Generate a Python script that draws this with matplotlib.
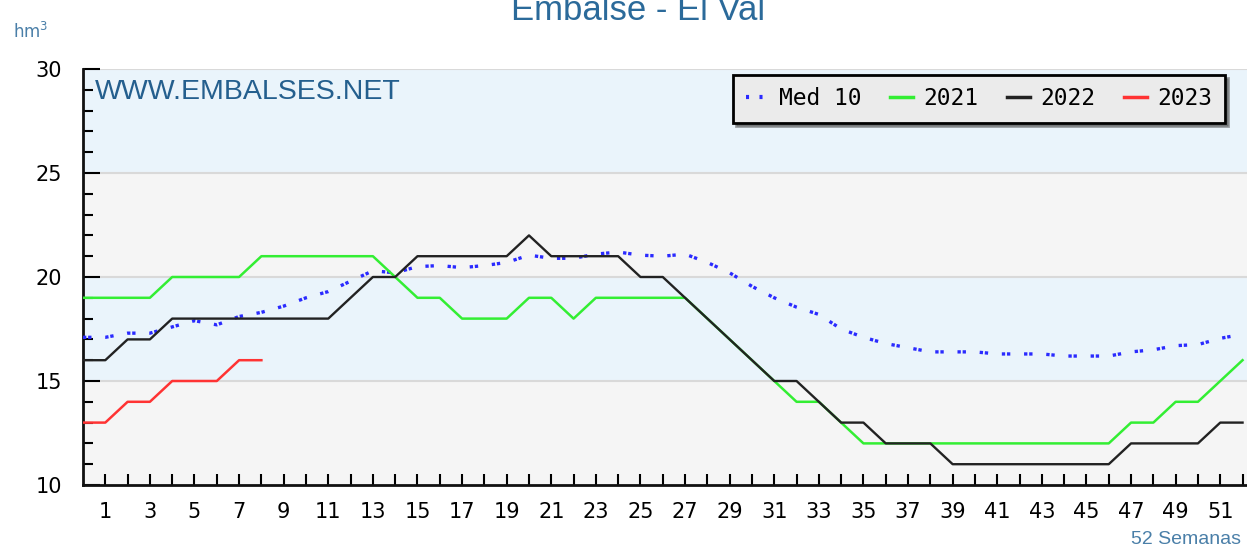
#!/usr/bin/env python3
"""Embalse - El Val: weekly reservoir volume (hm3), last years vs 10-year mean."""
import matplotlib
matplotlib.use("Agg")
import matplotlib.pyplot as plt
from matplotlib.lines import Line2D

# ── Data (week index 0..52) ────────────────────────────────────────────────────
WEEKS = list(range(53))

MED10 = [17.1, 17.1, 17.3, 17.3, 17.6, 17.9, 17.7, 18.1, 18.3, 18.6,
         19.0, 19.3, 19.8, 20.3, 20.2, 20.5, 20.55, 20.45, 20.55, 20.7,
         21.05, 20.9, 20.9, 21.1, 21.2, 21.05, 21.0, 21.1, 20.7, 20.2,
         19.55, 19.0, 18.55, 18.2, 17.5, 17.1, 16.8, 16.6, 16.4, 16.4,
         16.4, 16.3, 16.3, 16.3, 16.2, 16.2, 16.2, 16.4, 16.5, 16.7,
         16.75, 17.05, 17.25]

Y2021 = [19, 19, 19, 19, 20, 20, 20, 20, 21, 21,
         21, 21, 21, 21, 20, 19, 19, 18, 18, 18,
         19, 19, 18, 19, 19, 19, 19, 19, 18, 17,
         16, 15, 14, 14, 13, 12, 12, 12, 12, 12,
         12, 12, 12, 12, 12, 12, 12, 13, 13, 14,
         14, 15, 16]

Y2022 = [16, 16, 17, 17, 18, 18, 18, 18, 18, 18,
         18, 18, 19, 20, 20, 21, 21, 21, 21, 21,
         22, 21, 21, 21, 21, 20, 20, 19, 18, 17,
         16, 15, 15, 14, 13, 13, 12, 12, 12, 11,
         11, 11, 11, 11, 11, 11, 11, 12, 12, 12,
         12, 13, 13]

Y2023 = [13, 13, 14, 14, 15, 15, 15, 16, 16]

SERIES_LABELS = ["Med 10", "2021", "2022", "2023"]
COLORS = {"Med 10": "#2a2aff", "2021": "#33ee33", "2022": "#222222", "2023": "#ff3333"}

BANDS = [(10, 15, "#f5f5f5"), (15, 20, "#eaf4fb"), (20, 25, "#f5f5f5"), (25, 30, "#eaf4fb")]
TICK_WEEKS = list(range(1, 53))

plt.rcParams["lines.scale_dashes"] = False

fig = plt.figure(figsize=(12.47, 5.48), dpi=100)
ax = fig.add_axes([83 / 1247, 63 / 548, 1 - 83 / 1247, 416 / 548])

for lo, hi, c in BANDS:
    ax.axhspan(lo, hi, color=c, zorder=0, lw=0)
for y in (15, 20, 25, 30):
    ax.axhline(y, color="#d9d9d9", lw=1.5, zorder=1)

dots = (0, (2.4, 1.3, 2.4, 9.9))
ax.plot(WEEKS, MED10, color=COLORS["Med 10"], lw=2.4, ls=dots, zorder=3)
ax.plot(WEEKS, Y2021, color=COLORS["2021"], lw=1.8, zorder=3)
ax.plot(WEEKS, Y2022, color=COLORS["2022"], lw=1.7, zorder=4)
ax.plot(WEEKS[:len(Y2023)], Y2023, color=COLORS["2023"], lw=1.8, zorder=5)

ax.set_xlim(0, 52.2)
ax.set_ylim(10, 30)

ax.set_xticks(TICK_WEEKS)
ax.set_xticklabels([str(w) if w % 2 else "" for w in TICK_WEEKS],
                   fontsize=15, family="DejaVu Sans")
ax.set_yticks([10, 15, 20, 25, 30])
ax.set_yticks(range(10, 31), minor=True)
ax.set_yticklabels(["10", "15", "20", "25", "30"], fontsize=15, family="DejaVu Sans")
ax.tick_params(axis="x", direction="in", length=8, width=1.5, pad=12, colors="black")
ax.tick_params(axis="y", which="major", direction="in", length=12, width=1.5, pad=15)
ax.tick_params(axis="y", which="minor", direction="in", length=7, width=1.5)
ax.tick_params(axis="x", which="minor", bottom=False)

for s in ("top", "right"):
    ax.spines[s].set_visible(False)
for s in ("left", "bottom"):
    ax.spines[s].set_linewidth(2)
    ax.spines[s].set_color("#111111")

# watermark
ax.text(0.010, 0.975, "WWW.EMBALSES.NET", transform=ax.transAxes,
        ha="left", va="top", fontsize=20.5, family="Liberation Sans", color="#245f8e")

# legend
handles = [
    Line2D([], [], color=COLORS["Med 10"], lw=3, ls=(0, (2.2, 7.5))),
    Line2D([], [], color=COLORS["2021"], lw=2.5),
    Line2D([], [], color=COLORS["2022"], lw=2.5),
    Line2D([], [], color=COLORS["2023"], lw=2.5),
]
leg = ax.legend(handles, SERIES_LABELS, loc="upper right", bbox_to_anchor=(0.981, 0.986),
                borderaxespad=0, ncol=4, frameon=True, fancybox=False, shadow=True,
                framealpha=1, facecolor="#ebebeb", edgecolor="black", handlelength=1.0,
                handletextpad=0.45, columnspacing=1.25, borderpad=0.55,
                prop={"family": "DejaVu Sans Mono", "size": 16.5})
leg.get_frame().set_linewidth(2)

# titles and units
fig.text(0.512, 1 - 20 / 548, "Embalse - El Val", ha="center", va="baseline",
         fontsize=25, family="Liberation Sans", color="#2b6a9a")
fig.text(13 / 1247, 1 - 38 / 548, r"hm$^3$", ha="left", va="baseline",
         fontsize=12, color="#4a7fa8")
fig.text(1241 / 1247, 1 - 544 / 548, "52 Semanas", ha="right", va="baseline",
         fontsize=14, family="Liberation Sans", color="#4a7fa8")

fig.savefig("out.png", dpi=100)
